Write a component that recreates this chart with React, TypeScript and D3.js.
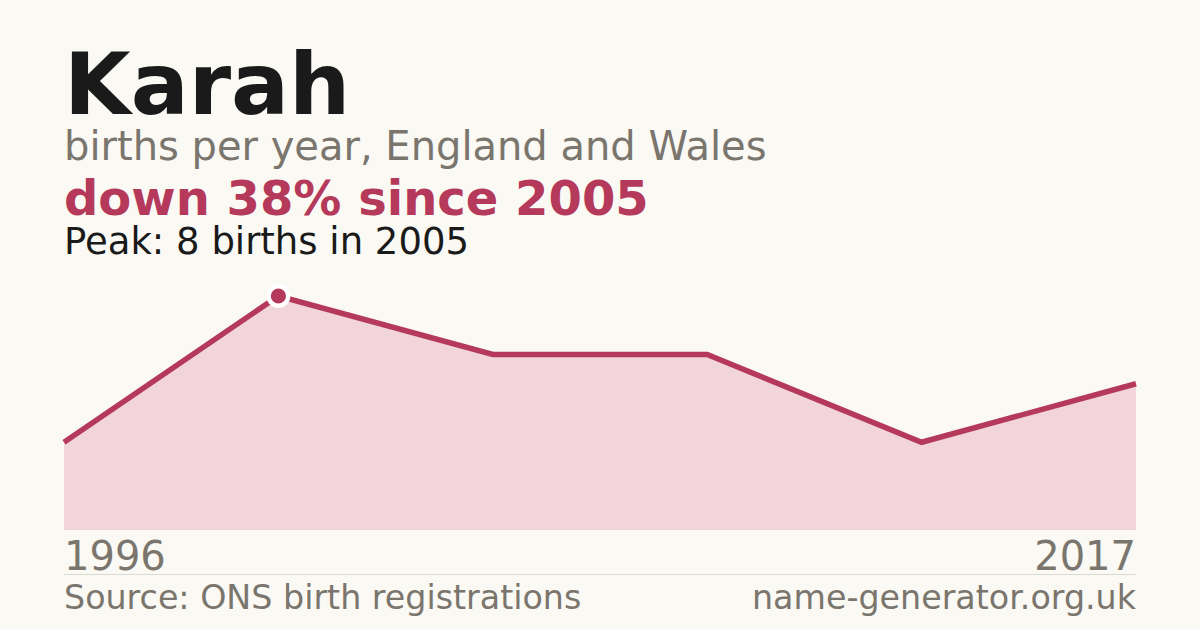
import React from 'react';
import * as d3 from 'd3';

// births per year, sampled points of the series
const years = [1996, 2005, 2008, 2011, 2014, 2017];
const births = [3, 8, 6, 6, 3, 5];
const peakYear = 2005;
const peakValue = 8;

const W = 1200;
const H = 630;
const FONT = '"DejaVu Sans", sans-serif';
const ACCENT = '#b5395a';
const GREY = '#7a756d';

const App = () => {
  const x = d3.scalePoint<number>().domain(years).range([64, 1136]);
  const y = d3.scaleLinear().domain([0, peakValue]).range([530, 296]);

  const pts = years.map((yr, i) => ({ year: yr, value: births[i] }));

  const area = d3.area<{ year: number; value: number }>()
    .x(d => x(d.year)!)
    .y0(y(0))
    .y1(d => y(d.value));
  const line = d3.line<{ year: number; value: number }>()
    .x(d => x(d.year)!)
    .y(d => y(d.value));

  return (
    <svg width={W} height={H} style={{ display: 'block', position: 'absolute', left: 0, top: 0 }}>
      <rect width={W} height={H} fill="#faf9f4" />
      <text x={64} y={114} fontFamily={FONT} fontWeight="bold" fontSize={86} fill="#1a1a1a">Karah</text>
      <text x={64} y={160} fontFamily={FONT} fontSize={40} fill={GREY}>births per year, England and Wales</text>
      <text x={64} y={215} fontFamily={FONT} fontWeight="bold" fontSize={48} fill={ACCENT}>down 38% since 2005</text>
      <text x={64} y={254} fontFamily={FONT} fontSize={37} fill="#1a1a1a">Peak: 8 births in 2005</text>

      <path d={area(pts)!} fill="#f1d5da" />
      <path d={line(pts)!} fill="none" stroke={ACCENT} strokeWidth={5.5} strokeLinejoin="miter" />
      <circle cx={x(peakYear)} cy={y(peakValue)} r={9.8} fill={ACCENT} stroke="#ffffff" strokeWidth={4.4} />

      <text x={64} y={570} fontFamily={FONT} fontSize={40} fill={GREY}>{years[0]}</text>
      <text x={1136} y={570} fontFamily={FONT} fontSize={40} fill={GREY} textAnchor="end">{years[years.length - 1]}</text>
      <line x1={64} x2={1136} y1={574.5} y2={574.5} stroke="#dcd9d2" strokeWidth={1} />
      <text x={64} y={609} fontFamily={FONT} fontSize={33.3} fill={GREY}>Source: ONS birth registrations</text>
      <text x={1136} y={609} fontFamily={FONT} fontSize={33.3} fill={GREY} textAnchor="end">name-generator.org.uk</text>
    </svg>
  );
};

export default App;
